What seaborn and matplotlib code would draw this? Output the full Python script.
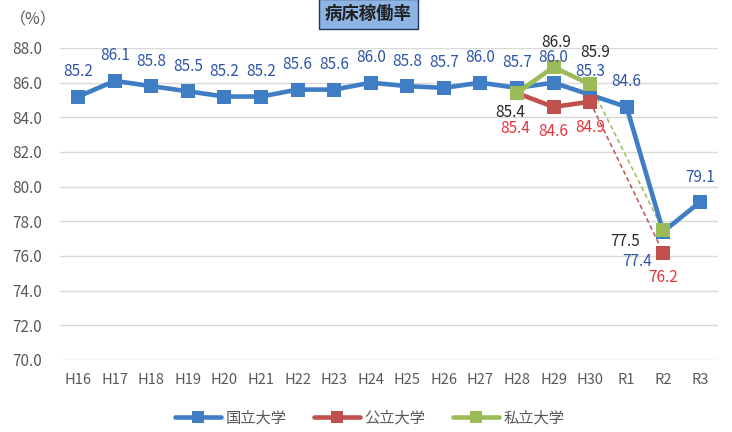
import matplotlib
matplotlib.use("Agg")
from matplotlib import pyplot as plt
import seaborn as sns
import pandas as pd
import numpy as np

# ---- data ----
years = ["H16", "H17", "H18", "H19", "H20", "H21", "H22", "H23", "H24",
         "H25", "H26", "H27", "H28", "H29", "H30", "R1", "R2", "R3"]
national = [85.2, 86.1, 85.8, 85.5, 85.2, 85.2, 85.6, 85.6, 86.0,
            85.8, 85.7, 86.0, 85.7, 86.0, 85.3, 84.6, 77.4, 79.1]
public_years = ["H28", "H29", "H30"]
public = [85.4, 84.6, 84.9]
private_years = ["H28", "H29", "H30"]
private = [85.4, 86.9, 85.9]
# R2 values reached by the dashed jump from H30
public_r2 = 76.2
private_r2 = 77.5

series_names = ["国立大学", "公立大学", "私立大学"]
colors = ["#3F7DC4", "#C0504D", "#9BBB59"]

sns.set_style("white")
plt.rcParams["font.family"] = ["Noto Sans CJK JP", "DejaVu Sans"]

pos = {y: i for i, y in enumerate(years)}
df = pd.concat([
    pd.DataFrame({"x": [pos[y] for y in years], "v": national, "s": series_names[0]}),
    pd.DataFrame({"x": [pos[y] for y in public_years], "v": public, "s": series_names[1]}),
    pd.DataFrame({"x": [pos[y] for y in private_years], "v": private, "s": series_names[2]}),
])

fig = plt.figure(figsize=(7.32, 4.32), dpi=100)
ax = fig.add_axes([60 / 732, 1 - 360 / 432, 658 / 732, 312 / 432])

# dashed jumps H30 -> R2
ax.plot([pos["H30"], pos["R2"]], [public[-1], public_r2], ls=(0, (3, 2)),
        lw=1.1, color=colors[1], zorder=2)
ax.plot([pos["H30"], pos["R2"]], [private[-1], private_r2], ls=(0, (3, 2)),
        lw=1.1, color=colors[2], zorder=2)

sns.lineplot(data=df, x="x", y="v", hue="s", hue_order=series_names,
             palette=colors, marker="s", markersize=9.5, markeredgewidth=0,
             linewidth=3.3, ax=ax, legend=False, zorder=3)
# separate R2 markers for public / private
ax.plot(pos["R2"], public_r2, "s", ms=9.5, mew=0, color=colors[1], zorder=4)
ax.plot(pos["R2"], private_r2, "s", ms=9.5, mew=0, color=colors[2], zorder=5)

ax.set_xlim(-0.5, len(years) - 0.5)
ax.set_ylim(70, 88)
ax.set_yticks(np.arange(70, 88.1, 2))
ax.set_yticklabels([f"{t:.1f}" for t in np.arange(70, 88.1, 2)])
ax.set_xticks(range(len(years)))
ax.set_xticklabels(years)
ax.set_xlabel("")
ax.set_ylabel("")
ax.grid(axis="y", color="#D9D9D9", lw=1)
ax.set_axisbelow(True)
for sp in ax.spines.values():
    sp.set_visible(False)
ax.tick_params(axis="y", length=0, pad=13, labelsize=11, labelcolor="#595959")
ax.tick_params(axis="x", length=0, pad=9, labelsize=10.5, labelcolor="#595959")

# ---- data labels ----
blue_txt = "#2E55A6"
red_txt = "#E8333A"
black_txt = "#262626"


def lab(x, v, dx, dy, color):
    ax.annotate(f"{v:.1f}", (x, v), xytext=(dx, dy), textcoords="offset pixels",
                ha="center", va="center", fontsize=11, color=color, zorder=6)


for i, v in enumerate(national):
    dx, dy = 0, 25
    if years[i] == "R2":
        dx, dy = -26, -30
    if years[i] == "H30":
        dy = 23
    lab(i, v, dx, dy, blue_txt)

pub_off = [(-2, -35), (0, -25), (0, -26)]
for y, v, (dx, dy) in zip(public_years, public, pub_off):
    lab(pos[y], v, dx, dy, red_txt)
lab(pos["R2"], public_r2, 0, -25, red_txt)

prv_off = [(-7, -19), (3, 25), (5, 32)]
for y, v, (dx, dy) in zip(private_years, private, prv_off):
    lab(pos[y], v, dx, dy, black_txt)
lab(pos["R2"], private_r2, -38, -12, black_txt)

# ---- title box and unit ----
fig.text(0.503, 0.967, "病床稼働率", ha="center", va="center", fontsize=12.5,
         fontweight="bold", color="#1F1F1F",
         bbox=dict(boxstyle="square,pad=0.35", fc="#8DB4E2", ec="#1F3864", lw=1))
fig.text(0.045, 0.953, "（%）", ha="center", va="center", fontsize=11.5,
         color="#595959")

# ---- legend ----
handles = [plt.Line2D([], [], color=c, lw=3.3, marker="s", ms=8.5, mew=0) for c in colors]
fig.legend(handles, series_names, loc="center", bbox_to_anchor=(0.505, 1 - 418 / 432),
           ncol=3, frameon=False, fontsize=11, labelcolor="#595959",
           handlelength=3, columnspacing=1.8, handletextpad=0.3)

fig.savefig("out.png", dpi=100)
